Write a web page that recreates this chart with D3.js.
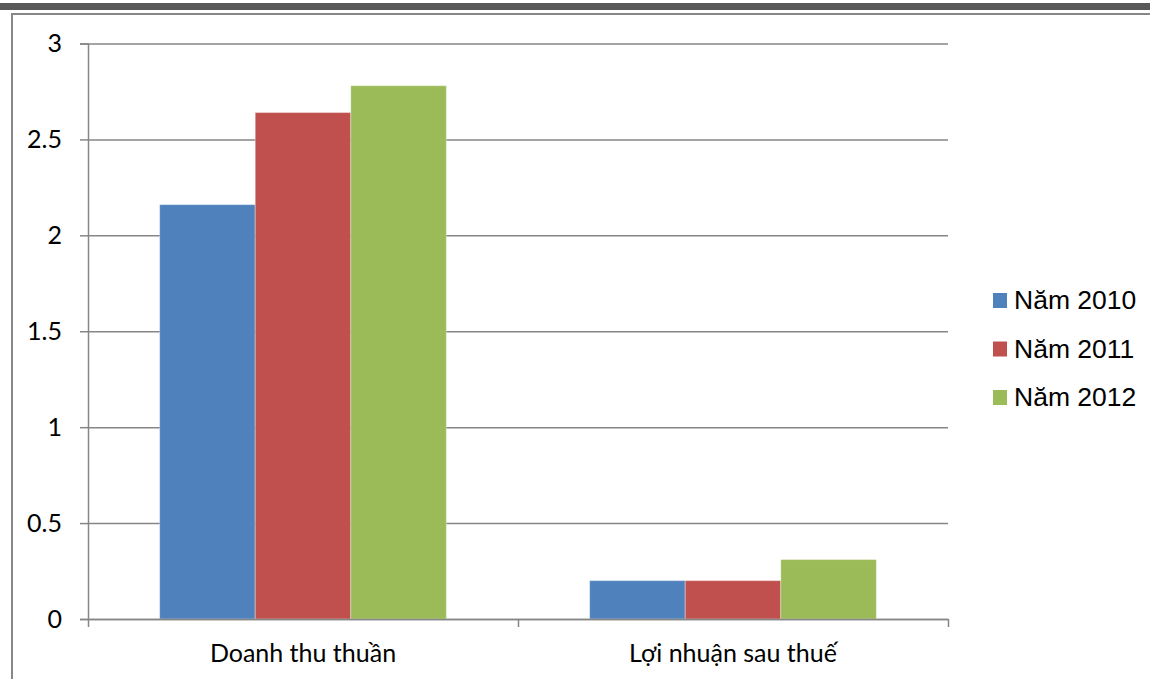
<!DOCTYPE html>
<html>
<head>
<meta charset="utf-8">
<script src="https://cdn.jsdelivr.net/npm/d3@7"></script>
<style>
  body { margin: 0; background: #fff; }
  svg { display: block; }
</style>
</head>
<body>
<script>
var categories = ["Doanh thu thuần", "Lợi nhuận sau thuế"];
var seriesNames = ["Năm 2010", "Năm 2011", "Năm 2012"];
var seriesValues = [
  [2.16, 0.20],   // Năm 2010
  [2.64, 0.20],   // Năm 2011
  [2.78, 0.31]    // Năm 2012
];
var yTicks = [0, 0.5, 1, 1.5, 2, 2.5, 3];
var colors = ["#4F81BD", "#C0504D", "#9BBB59"];

var W = 1150, H = 679;
var plot = {left: 88, right: 948, top: 43.5, bottom: 619};

var svg = d3.select("body")
    .append("svg")
    .attr("width", W)
    .attr("height", H);

// frame pieces
svg.append("rect").attr("x", 0).attr("y", 3).attr("width", W).attr("height", 7).attr("fill", "#595959");
svg.append("rect").attr("x", 11).attr("y", 13).attr("width", W - 11).attr("height", 2).attr("fill", "#878787");
svg.append("rect").attr("x", 11).attr("y", 13).attr("width", 2).attr("height", H - 13).attr("fill", "#878787");

var yScale = d3.scaleLinear()
    .domain([0, 3])
    .range([plot.bottom, plot.top]);

var x0 = d3.scaleBand()
    .domain(categories)
    .range([plot.left, plot.right])
    .paddingInner(1 / 3)
    .paddingOuter(1 / 6);

var x1 = d3.scaleBand()
    .domain(seriesNames)
    .range([0, x0.bandwidth()])
    .padding(0);

// gridlines
svg.append("g")
    .attr("transform", "translate(" + plot.left + ",0)")
    .call(d3.axisLeft(yScale).tickValues(yTicks).tickSize(-(plot.right - plot.left)).tickFormat(""))
    .call(function (g) { g.select(".domain").remove(); })
    .selectAll("line")
    .attr("stroke", "#868686")
    .attr("stroke-width", 1.5);

// bars
var rows = [];
seriesNames.forEach(function (s, i) {
  categories.forEach(function (c, j) {
    rows.push({series: s, cat: c, value: seriesValues[i][j], color: colors[i]});
  });
});

svg.selectAll("rect.bar")
    .data(rows)
    .enter()
    .append("rect")
    .attr("class", "bar")
    .attr("x", function (d) { return x0(d.cat) + x1(d.series); })
    .attr("y", function (d) { return yScale(d.value); })
    .attr("width", x1.bandwidth())
    .attr("height", function (d) { return plot.bottom - yScale(d.value); })
    .attr("fill", function (d) { return d.color; })
    .attr("stroke", "#ffffff")
    .attr("stroke-opacity", 0.35)
    .attr("stroke-width", 1);

// y axis
var yAxis = svg.append("g")
    .attr("transform", "translate(" + plot.left + ",0)")
    .call(d3.axisLeft(yScale).tickValues(yTicks).tickSize(8).tickPadding(18).tickFormat(d3.format("~g")));
yAxis.selectAll("line, path").attr("stroke", "#868686").attr("stroke-width", 1.5);
yAxis.selectAll("text")
    .attr("fill", "#000")
    .style("font-family", "Lato, 'Liberation Sans', sans-serif")
    .style("font-size", "25px");

// x axis: ticks on category boundaries
var xEdges = d3.scaleLinear().domain([0, categories.length]).range([plot.left, plot.right]);
var xAxis = svg.append("g")
    .attr("transform", "translate(0," + plot.bottom + ")")
    .call(d3.axisBottom(xEdges).tickValues(d3.range(categories.length + 1)).tickSize(8).tickSizeOuter(0).tickFormat(""));
xAxis.selectAll("line, path").attr("stroke", "#868686").attr("stroke-width", 1.5);

svg.append("g")
    .selectAll("text")
    .data(categories)
    .enter()
    .append("text")
    .attr("x", function (d) { return x0(d) + x0.bandwidth() / 2; })
    .attr("y", 662)
    .attr("text-anchor", "middle")
    .style("font-family", "Lato, 'Liberation Sans', sans-serif")
    .style("font-size", "25px")
    .attr("fill", "#000")
    .text(function (d) { return d; });

// legend
var legend = svg.append("g")
    .selectAll("g")
    .data(seriesNames)
    .enter()
    .append("g")
    .attr("transform", function (d, i) { return "translate(993," + (293 + i * 48.5) + ")"; });

legend.append("rect")
    .attr("width", 14)
    .attr("height", 15)
    .attr("fill", function (d, i) { return colors[i]; });

legend.append("text")
    .attr("x", 21)
    .attr("y", 16)
    .style("font-family", "'Liberation Sans', Arial, sans-serif")
    .style("font-size", "26.5px")
    .attr("fill", "#000")
    .text(function (d) { return d; });
</script>
</body>
</html>
